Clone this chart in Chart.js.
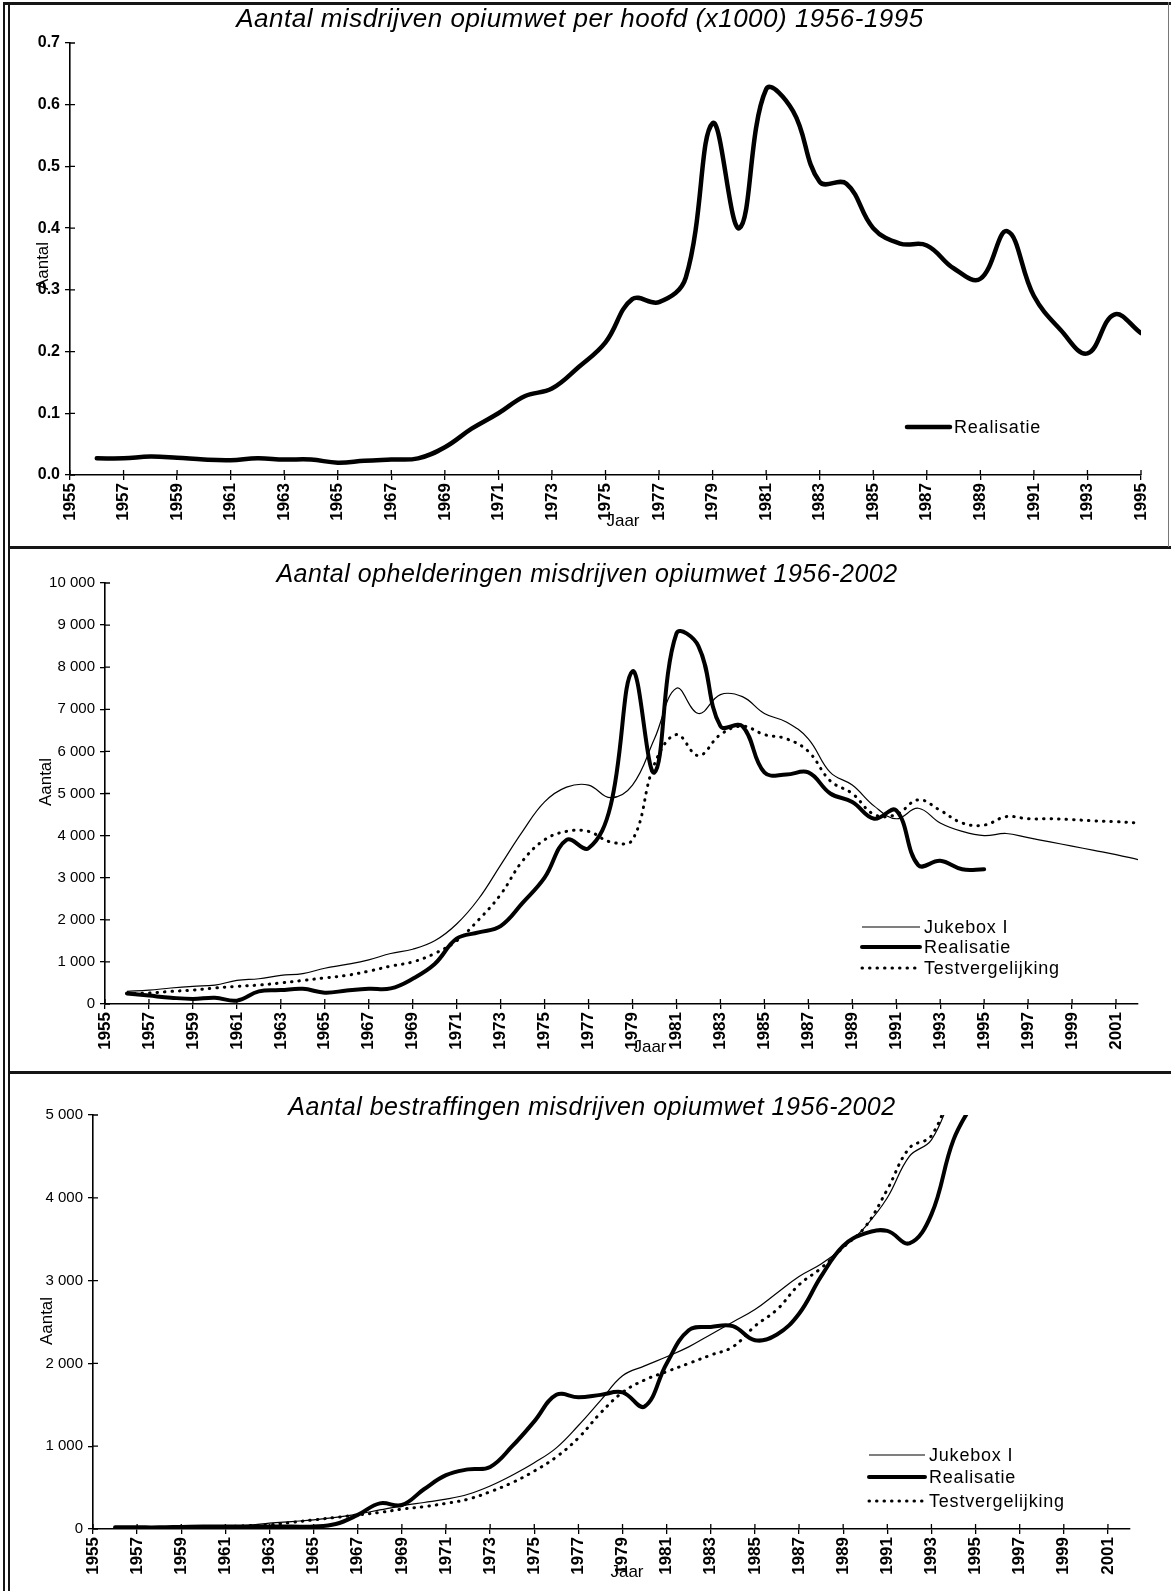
<!DOCTYPE html>
<html><head><meta charset="utf-8">
<script src="https://cdn.jsdelivr.net/npm/chart.js@4"></script>
<style>
html,body{margin:0;padding:0;background:#fff;}
#page{position:relative;width:1171px;height:1591px;overflow:hidden;background:#fff;}
.panel{position:absolute;left:0;}
.rule{position:absolute;background:#151515;}
</style></head><body>
<div id="page">
  <div class="panel" style="top:0px"><canvas id="c1" width="1171" height="548"></canvas></div>
  <div class="panel" style="top:548px"><canvas id="c2" width="1171" height="525"></canvas></div>
  <div class="panel" style="top:1073px"><canvas id="c3" width="1171" height="518"></canvas></div>
  <div class="rule" style="left:3px;top:2px;width:2px;height:1589px"></div>
  <div class="rule" style="left:8px;top:2px;width:2px;height:1589px"></div>
  <div class="rule" style="left:3px;top:2px;width:1168px;height:3px"></div>
  <div class="rule" style="left:8px;top:546px;width:1163px;height:3px"></div>
  <div class="rule" style="left:8px;top:1071px;width:1163px;height:3px"></div>
  <div class="rule" style="left:1168px;top:2px;width:1px;height:545px;background:#777"></div>
</div>
<script>
// ---------- Panel 1: Aantal misdrijven opiumwet per hoofd (x1000) ----------
const years1 = [1956,1957,1958,1959,1960,1961,1962,1963,1964,1965,1966,1967,1968,1969,1970,1971,1972,1973,1974,1975,
                1976,1977,1978,1979,1980,1981,1982,1983,1984,1985,1986,1987,1988,1989,1990,1991,1992,1993,1994,1995];
const realisatie1 = [0.027,0.027,0.030,0.028,0.025,0.024,0.027,0.025,0.025,0.020,
                     0.023,0.025,0.027,0.045,0.075,0.100,0.128,0.140,0.175,0.215,
                     0.285,0.280,0.320,0.570,0.400,0.625,0.590,0.475,0.472,0.400,
                     0.375,0.372,0.335,0.318,0.395,0.290,0.235,0.197,0.260,0.230];
const xTicks1 = [1955,1957,1959,1961,1963,1965,1967,1969,1971,1973,1975,1977,1979,1981,1983,1985,1987,1989,1991,1993,1995];
const yTicks1 = [0,0.1,0.2,0.3,0.4,0.5,0.6,0.7];
const yLabels1 = ['0.0','0.1','0.2','0.3','0.4','0.5','0.6','0.7'];

// ---------- Panel 2: Aantal ophelderingen ----------
const years2 = [1956,1957,1958,1959,1960,1961,1962,1963,1964,1965,1966,1967,1968,1969,1970,1971,1972,1973,1974,1975,
                1976,1977,1978,1979,1980,1981,1982,1983,1984,1985,1986,1987,1988,1989,1990,1991,1992,1993,1994,1995,
                1996,1997,1998,1999,2000,2001,2002];
const jukebox2 = [300,330,380,420,450,560,600,680,720,850,
                  940,1050,1200,1300,1500,1900,2500,3300,4100,4800,
                  5150,5200,4900,5200,6300,7500,6900,7350,7300,6900,
                  6700,6300,5500,5200,4700,4400,4650,4300,4100,4000,
                  4050,3950,3850,3750,3650,3550,3430];
const realisatie2 = [250,200,150,120,150,80,300,330,360,270,
                     320,360,370,600,950,1550,1700,1850,2400,3000,
                     3900,3700,4700,7900,5500,8800,8500,6600,6600,5500,
                     5450,5500,5000,4800,4400,4600,3300,3400,3200,3200];
const test2 = [250,260,300,330,380,420,450,500,560,620,
               680,780,900,1000,1200,1500,2000,2600,3400,3900,
               4100,4100,3850,3900,5700,6400,5900,6400,6600,6400,
               6300,6000,5300,5000,4500,4500,4850,4600,4300,4250,
               4450,4400,4400,4380,4350,4330,4300];
const xTicks23 = [1955,1957,1959,1961,1963,1965,1967,1969,1971,1973,1975,1977,1979,1981,1983,1985,1987,1989,1991,1993,1995,1997,1999,2001];
const yTicks2 = [0,1000,2000,3000,4000,5000,6000,7000,8000,9000,10000];
const yLabels2 = ['0','1 000','2 000','3 000','4 000','5 000','6 000','7 000','8 000','9 000','10 000'];

// ---------- Panel 3: Aantal bestraffingen ----------
const years3 = years2;
const jukebox3 = [10,15,20,25,30,35,45,70,90,110,
                  140,180,230,280,320,360,420,520,650,800,
                  980,1250,1550,1850,1970,2080,2200,2350,2500,2650,
                  2850,3050,3200,3400,3650,4000,4500,4700,5300];
const realisatie3 = [20,20,20,25,30,30,30,30,30,30,
                     60,170,310,290,480,650,720,750,1000,1300,
                     1620,1590,1620,1650,1480,2000,2400,2440,2450,2280,
                     2350,2600,3050,3420,3570,3600,3450,3800,4700,5200];
const test3 = [10,10,15,20,25,30,40,50,80,110,
               140,170,200,240,270,310,360,450,560,700,
               870,1100,1400,1650,1800,1900,2000,2100,2200,2450,
               2650,2950,3150,3400,3650,4100,4600,4750,5400];
const yTicks3 = [0,1000,2000,3000,4000,5000];
const yLabels3 = ['0','1 000','2 000','3 000','4 000','5 000'];

const labelJukebox = 'Jukebox I';
const labelReal = 'Realisatie';
const labelTest = 'Testvergelijking';

// ---------- helpers ----------
const FONT = "'Liberation Sans', Arial, sans-serif";
Chart.defaults.font.family = FONT;
Chart.defaults.color = '#000';

function pts(xs, ys) { return ys.map((v, i) => ({x: xs[i], y: v})); }

const annot = {
  id: 'annot',
  afterDraw(chart, args, o) {
    const {ctx, chartArea} = chart;
    const xs = chart.scales.x, ys = chart.scales.y;
    const T = o.canvasTop;
    ctx.save();
    ctx.fillStyle = '#000'; ctx.strokeStyle = '#000';
    ctx.lineWidth = 1.3;
    ctx.beginPath();
    xs.ticks.forEach(t => { const p = xs.getPixelForValue(t.value); ctx.moveTo(p, chartArea.bottom); ctx.lineTo(p, chartArea.bottom - 5); });
    ys.ticks.forEach(t => { const p = ys.getPixelForValue(t.value); ctx.moveTo(chartArea.left, p); ctx.lineTo(chartArea.left + 5, p); });
    ctx.stroke();
    ctx.textAlign = 'center'; ctx.textBaseline = 'middle';
    ctx.font = o.titleFont;
    ctx.letterSpacing = '0.5px';
    ctx.fillText(o.title, o.titleX, o.titleY - T);
    ctx.letterSpacing = '0px';
    ctx.font = o.axisFont;
    ctx.fillText(o.xTitle, o.xTitleX, o.xTitleY - T);
    ctx.save(); ctx.translate(o.yTitleX, o.yTitleY - T); ctx.rotate(-Math.PI / 2); ctx.fillText(o.yTitle, 0, 0); ctx.restore();
    ctx.font = o.legendFont; ctx.textAlign = 'left';
    o.legend.forEach(item => {
      const ds = chart.data.datasets[item.index];
      ctx.save();
      ctx.lineWidth = ds.borderWidth; ctx.setLineDash(ds.borderDash || []); ctx.lineCap = ds.borderCapStyle || 'butt';
      ctx.beginPath(); ctx.moveTo(o.legendX0, item.y - T); ctx.lineTo(o.legendX1, item.y - T); ctx.stroke();
      ctx.restore();
      ctx.letterSpacing = '0.8px';
      ctx.fillText(ds.label, o.legendX1 + 4, item.y - T + 1);
      ctx.letterSpacing = '0px';
    });
    ctx.restore();
  }
};

// p.left/right/top/bottom are page coordinates of the plot area
function makeChart(id, p) {
  const canvas = document.getElementById(id);
  const W = canvas.width, H = canvas.height;
  const xH = 62;
  const top = p.top - p.canvasTop, bottom = p.bottom - p.canvasTop;
  p.annot.canvasTop = p.canvasTop;
  return new Chart(canvas, {
    type: 'line',
    data: {datasets: p.datasets},
    options: {
      responsive: false, animation: false, devicePixelRatio: 1,
      layout: {padding: {left: 0, right: W - p.right, top: top, bottom: H - bottom - xH}},
      elements: {point: {radius: 0, hoverRadius: 0}, line: {tension: 0.4}},
      plugins: {legend: {display: false}, tooltip: {enabled: false}, annot: p.annot},
      scales: {
        x: {
          type: 'linear', min: p.xMin, max: p.xMax,
          afterBuildTicks: s => { s.ticks = p.xTicks.map(v => ({value: v})); },
          afterFit: s => { s.height = xH; },
          grid: {drawOnChartArea: false, drawTicks: true, tickLength: 5, color: '#000', lineWidth: 1.3},
          border: {display: true, color: '#000', width: 1.6},
          ticks: {autoSkip: false, minRotation: 90, maxRotation: 90, padding: 3,
                  font: {size: p.xFont, weight: 'bold'}, callback: v => String(v)}
        },
        y: {
          type: 'linear', min: p.yTicks[0], max: p.yTicks[p.yTicks.length - 1],
          afterBuildTicks: s => { s.ticks = p.yTicks.map(v => ({value: v})); },
          afterFit: s => { s.width = p.left; },
          grid: {drawOnChartArea: false, drawTicks: true, tickLength: 5, color: '#000', lineWidth: 1.3},
          border: {display: true, color: '#000', width: 1.6},
          ticks: {padding: 5, font: {size: p.yFont, weight: p.yWeight},
                  callback: (v, i) => p.yLabels[i]}
        }
      }
    },
    plugins: [annot]
  });
}

const thick = (label, data, w) => ({label, data, borderColor: '#000', borderWidth: w, borderCapStyle: 'round', borderJoinStyle: 'round'});
const thin = (label, data) => ({label, data, borderColor: '#000', borderWidth: 1.2});
const dotted = (label, data) => ({label, data, borderColor: '#000', borderWidth: 3, borderDash: [0.5, 7], borderCapStyle: 'round'});

makeChart('c1', {
  canvasTop: 0, left: 70, right: 1141, top: 43, bottom: 475,
  xMin: 1955, xMax: 1995, xTicks: xTicks1, yTicks: yTicks1, yLabels: yLabels1,
  xFont: 17, yFont: 16, yWeight: 'bold',
  datasets: [thick(labelReal, pts(years1, realisatie1), 4.5)],
  annot: {
    title: 'Aantal misdrijven opiumwet per hoofd (x1000) 1956-1995', titleFont: 'italic 26px ' + FONT, titleX: 580, titleY: 20,
    axisFont: '17px ' + FONT, xTitle: 'Jaar', xTitleX: 623, xTitleY: 521, yTitle: 'Aantal', yTitleX: 43, yTitleY: 266,
    legendFont: '18px ' + FONT, legendX0: 907, legendX1: 950, legend: [{index: 0, y: 427}]
  }
});

makeChart('c2', {
  canvasTop: 548, left: 105, right: 1138, top: 583, bottom: 1004,
  xMin: 1955, xMax: 2002, xTicks: xTicks23, yTicks: yTicks2, yLabels: yLabels2,
  xFont: 17, yFont: 15, yWeight: 'normal',
  datasets: [thin(labelJukebox, pts(years2, jukebox2)), thick(labelReal, pts(years2, realisatie2), 4), dotted(labelTest, pts(years2, test2))],
  annot: {
    title: 'Aantal ophelderingen misdrijven opiumwet 1956-2002', titleFont: 'italic 25px ' + FONT, titleX: 587, titleY: 575,
    axisFont: '17px ' + FONT, xTitle: 'Jaar', xTitleX: 650, xTitleY: 1047, yTitle: 'Aantal', yTitleX: 46, yTitleY: 782,
    legendFont: '18px ' + FONT, legendX0: 862, legendX1: 920,
    legend: [{index: 0, y: 927}, {index: 1, y: 947}, {index: 2, y: 968}]
  }
});

makeChart('c3', {
  canvasTop: 1073, left: 93, right: 1130, top: 1115, bottom: 1529,
  xMin: 1955, xMax: 2002, xTicks: xTicks23, yTicks: yTicks3, yLabels: yLabels3,
  xFont: 17, yFont: 15, yWeight: 'normal',
  datasets: [thin(labelJukebox, pts(years3, jukebox3)), thick(labelReal, pts(years3, realisatie3), 4), dotted(labelTest, pts(years3, test3))],
  annot: {
    title: 'Aantal bestraffingen misdrijven opiumwet 1956-2002', titleFont: 'italic 25px ' + FONT, titleX: 592, titleY: 1108,
    axisFont: '17px ' + FONT, xTitle: 'Jaar', xTitleX: 627, xTitleY: 1572, yTitle: 'Aantal', yTitleX: 47, yTitleY: 1321,
    legendFont: '18px ' + FONT, legendX0: 869, legendX1: 925,
    legend: [{index: 0, y: 1455}, {index: 1, y: 1477}, {index: 2, y: 1501}]
  }
});
</script>
</body></html>
